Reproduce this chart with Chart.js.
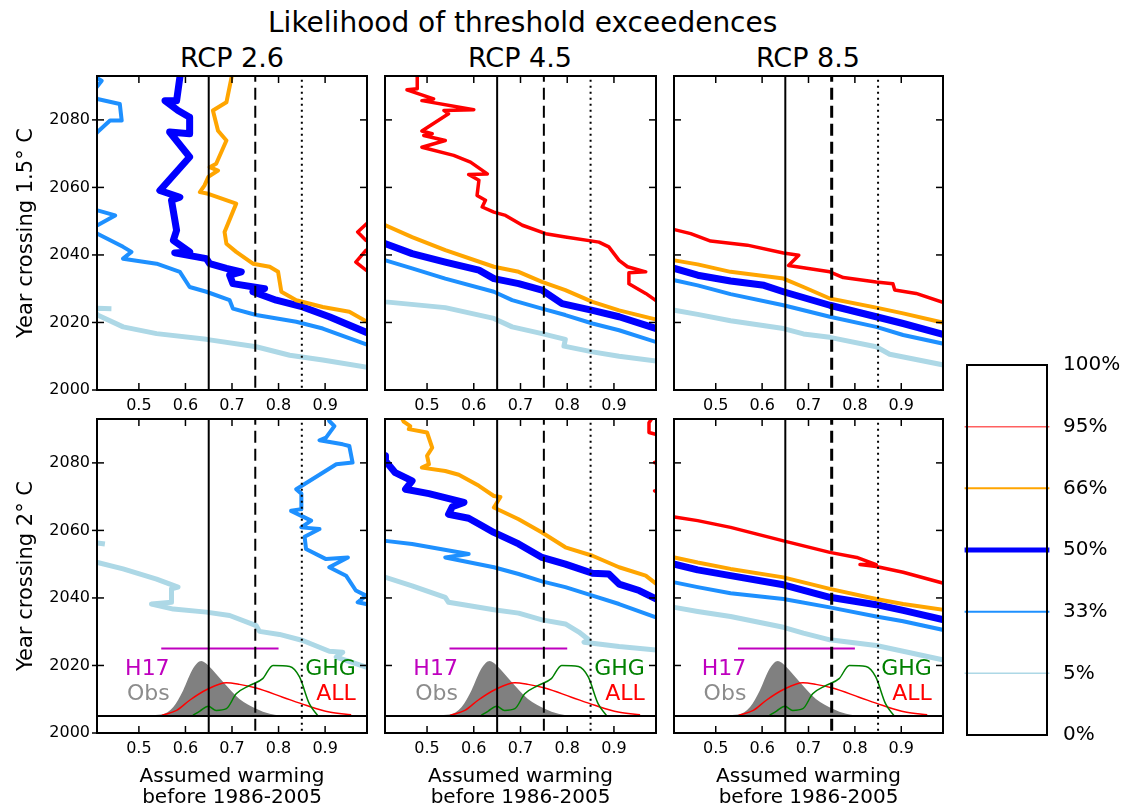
<!DOCTYPE html>
<html>
<head>
<meta charset="utf-8">
<script src="https://cdn.jsdelivr.net/npm/chart.js@4.4.1/dist/chart.umd.min.js"></script>
<style>
  body { margin: 0; background: #fff; width: 1124px; height: 810px; position: relative; overflow: hidden; font-family: 'DejaVu Sans', sans-serif; }
  canvas { position: absolute; }
  .ttl { position: absolute; width: 500px; text-align: center; font-size: 27px; line-height: 32px; color: #000; white-space: nowrap; }
</style>
</head>
<body>
<div class="ttl" style="left:268px;top:7px;font-size:28px">Likelihood of threshold exceedences</div>
<div class="ttl" style="left:-18px;top:42px">RCP 2.6</div>
<div class="ttl" style="left:270px;top:42px">RCP 4.5</div>
<div class="ttl" style="left:558px;top:42px">RCP 8.5</div>
<script>
// axis ticks and legend labels
const xTicks = [0.5, 0.6, 0.7, 0.8, 0.9];
const yTicks = [2000, 2020, 2040, 2060, 2080];
const legendLabels = ['0%', '5%', '33%', '50%', '66%', '95%', '100%'];

// year crossing 1.5 C, [assumed warming, year]
const rcp26_15_p05 = [[0.441,2024.1],[0.411,2024.2],[0.405,2023.5],[0.411,2022.2],[0.466,2018.7],[0.538,2016.7],[0.645,2015.0],[0.752,2012.8],[0.824,2010.3],[0.895,2008.9],[0.995,2006.6]];
const rcp26_15_p33 = [[0.39,2094],[0.42,2091.6],[0.40,2088],[0.411,2086.2],[0.459,2084.7],[0.463,2079.8],[0.438,2079.8],[0.411,2076.4],[0.38,2072],[0.38,2055],[0.411,2053.2],[0.449,2051.7],[0.411,2048.8],[0.39,2047.5],[0.411,2046.3],[0.466,2042.4],[0.484,2040.9],[0.466,2038.9],[0.538,2037.4],[0.588,2035.0],[0.609,2030.5],[0.645,2029.1],[0.695,2026.6],[0.702,2024.1],[0.752,2022.2],[0.838,2020.2],[0.895,2018.2],[0.995,2013.2]];
const rcp26_15_p50 = [[0.59,2095],[0.588,2092.6],[0.581,2085.7],[0.556,2085.7],[0.584,2082.8],[0.609,2080.8],[0.609,2075.9],[0.566,2076.4],[0.609,2069.0],[0.545,2059.1],[0.588,2057.1],[0.570,2056.2],[0.581,2047.3],[0.574,2044.3],[0.609,2040.9],[0.577,2040.6],[0.645,2038.9],[0.652,2037.4],[0.688,2036.0],[0.720,2035.0],[0.695,2034.0],[0.702,2031.5],[0.770,2030.0],[0.745,2029.1],[0.795,2026.6],[0.852,2024.6],[0.909,2021.7],[0.995,2016.7]];
const rcp26_15_p66 = [[0.70,2095],[0.699,2092.6],[0.688,2085.2],[0.659,2082.8],[0.670,2076.8],[0.688,2073.9],[0.666,2067.0],[0.652,2066.0],[0.670,2065.0],[0.649,2063.1],[0.641,2060.6],[0.631,2058.6],[0.649,2058.1],[0.709,2055.2],[0.684,2046.8],[0.688,2043.3],[0.709,2040.9],[0.745,2037.4],[0.781,2036.5],[0.799,2035.0],[0.806,2029.1],[0.838,2026.6],[0.895,2024.6],[0.952,2023.2],[0.995,2019.8]];
const rcp26_15_p95 = [[1.01,2051],[0.995,2050.0],[0.970,2046.8],[0.988,2044.3],[1.01,2043],[1.01,2042],[0.988,2041.4],[0.966,2037.9],[0.988,2035.5],[1.01,2034]];

const rcp45_15_p05 = [[0.40,2026.3],[0.411,2026.1],[0.539,2024.4],[0.643,2021.2],[0.682,2018.7],[0.746,2016.7],[0.796,2015.0],[0.793,2013.0],[0.854,2011.3],[0.911,2010.0],[0.995,2008.5]];
const rcp45_15_p33 = [[0.40,2038.6],[0.411,2038.4],[0.468,2036.0],[0.539,2033.0],[0.643,2029.1],[0.682,2026.6],[0.746,2024.1],[0.796,2022.2],[0.854,2019.7],[0.911,2017.7],[0.995,2014.0]];
const rcp45_15_p50 = [[0.40,2043.6],[0.411,2043.3],[0.468,2040.4],[0.539,2037.9],[0.611,2035.5],[0.643,2033.0],[0.696,2031.5],[0.746,2029.6],[0.789,2025.6],[0.854,2023.6],[0.911,2021.7],[0.995,2018.0]];
const rcp45_15_p66 = [[0.40,2049.2],[0.411,2048.8],[0.468,2045.3],[0.539,2041.4],[0.643,2036.5],[0.696,2035.0],[0.746,2032.0],[0.796,2029.6],[0.854,2026.1],[0.911,2023.6],[0.995,2020.7]];
const rcp45_15_p95 = [[0.479,2095],[0.479,2089.2],[0.457,2088.9],[0.514,2086.2],[0.489,2085.7],[0.600,2083.0],[0.536,2082.8],[0.546,2081.8],[0.489,2076.7],[0.511,2075.9],[0.493,2075.4],[0.539,2073.9],[0.489,2071.9],[0.557,2069.5],[0.593,2067.5],[0.629,2064.0],[0.589,2063.8],[0.611,2062.1],[0.607,2057.6],[0.625,2056.2],[0.618,2054.2],[0.643,2052.7],[0.668,2051.7],[0.704,2048.8],[0.754,2046.3],[0.796,2045.3],[0.868,2043.8],[0.889,2042.4],[0.911,2038.4],[0.929,2036.5],[0.968,2035.0],[0.932,2034.7],[0.932,2031.5],[0.968,2028.6],[0.995,2026.0]];

const rcp85_15_p05 = [[0.40,2023.7],[0.411,2023.6],[0.461,2022.4],[0.532,2020.5],[0.646,2018.2],[0.689,2016.6],[0.746,2015.6],[0.846,2012.8],[0.875,2010.6],[0.995,2007.3]];
const rcp85_15_p33 = [[0.40,2032.7],[0.411,2032.5],[0.461,2031.0],[0.532,2028.4],[0.646,2025.1],[0.746,2021.7],[0.846,2018.7],[0.904,2016.3],[0.995,2013.6]];
const rcp85_15_p50 = [[0.40,2036.2],[0.411,2036.0],[0.461,2034.0],[0.532,2032.3],[0.604,2031.0],[0.646,2029.1],[0.746,2025.1],[0.846,2021.7],[0.904,2019.7],[0.995,2016.3]];
const rcp85_15_p66 = [[0.40,2038.6],[0.411,2038.4],[0.461,2037.2],[0.532,2035.0],[0.646,2033.0],[0.689,2030.5],[0.746,2027.1],[0.846,2024.4],[0.904,2022.7],[0.995,2019.8]];
const rcp85_15_p95 = [[0.40,2047.7],[0.411,2047.5],[0.446,2046.3],[0.489,2044.1],[0.568,2042.9],[0.646,2040.6],[0.679,2039.9],[0.657,2036.9],[0.746,2035.0],[0.775,2033.3],[0.846,2032.0],[0.882,2031.5],[0.886,2029.6],[0.932,2028.6],[0.995,2025.7]];

// year crossing 2 C
const rcp26_20_p05 = [[0.427,2056.0],[0.411,2056.3],[0.39,2055],[0.39,2051],[0.411,2050.5],[0.466,2048.6],[0.538,2045.6],[0.584,2043.2],[0.570,2042.7],[0.570,2038.7],[0.527,2038.2],[0.574,2036.7],[0.645,2035.8],[0.695,2034.8],[0.752,2031.8],[0.759,2030.1],[0.802,2029.2],[0.852,2027.4],[0.909,2024.2],[0.938,2023.9],[0.924,2022.5],[0.995,2019.2]];
const rcp26_20_p33 = [[0.905,2095],[0.909,2092.4],[0.920,2090.9],[0.902,2087.5],[0.888,2086.7],[0.938,2085.5],[0.952,2085.0],[0.959,2080.1],[0.924,2079.6],[0.838,2072.2],[0.849,2070.9],[0.849,2066.3],[0.827,2065.8],[0.870,2062.9],[0.849,2060.9],[0.888,2060.4],[0.856,2058.1],[0.859,2054.5],[0.902,2051.5],[0.949,2052.0],[0.909,2049.1],[0.945,2046.6],[0.966,2042.2],[0.988,2040.7],[0.970,2038.7],[0.988,2038.2],[1.01,2037]];

const rcp45_20_p05 = [[0.40,2046.3],[0.411,2046.1],[0.468,2043.6],[0.539,2040.2],[0.546,2038.7],[0.643,2036.5],[0.696,2035.5],[0.746,2033.5],[0.796,2032.3],[0.825,2029.9],[0.846,2027.6],[0.836,2026.9],[0.911,2025.6],[0.995,2024.5]];
const rcp45_20_p33 = [[0.40,2057.0],[0.411,2056.9],[0.468,2056.0],[0.589,2053.0],[0.539,2052.0],[0.643,2049.1],[0.696,2047.1],[0.746,2044.9],[0.796,2043.2],[0.854,2040.7],[0.911,2038.2],[0.995,2034.0]];
const rcp45_20_p50 = [[0.40,2083],[0.411,2082.1],[0.411,2080.6],[0.432,2077.1],[0.468,2074.7],[0.454,2072.2],[0.504,2070.9],[0.579,2068.3],[0.554,2067.0],[0.546,2064.8],[0.589,2063.6],[0.611,2061.9],[0.643,2059.4],[0.696,2056.0],[0.746,2052.0],[0.796,2050.0],[0.854,2047.3],[0.889,2047.1],[0.911,2044.1],[0.954,2042.2],[0.995,2039.4]];
const rcp45_20_p66 = [[0.44,2095],[0.450,2092.2],[0.464,2090.9],[0.461,2090.0],[0.500,2089.0],[0.511,2084.5],[0.500,2082.1],[0.504,2079.6],[0.489,2078.6],[0.539,2077.6],[0.568,2076.5],[0.611,2073.2],[0.643,2070.2],[0.657,2069.9],[0.643,2066.8],[0.696,2063.3],[0.746,2059.4],[0.796,2055.0],[0.854,2052.5],[0.911,2049.1],[0.968,2046.6],[0.995,2043.7]];
const rcp45_20_p95 = [[0.99,2095],[0.975,2091.9],[0.975,2089.0],[0.989,2088.5],[1.01,2087],[1.01,2081],[0.987,2080.1],[1.01,2079],[1.01,2072.5],[0.987,2071.7],[1.01,2071]];

const rcp85_20_p05 = [[0.40,2037.3],[0.411,2037.2],[0.461,2036.0],[0.532,2034.5],[0.646,2031.3],[0.689,2029.6],[0.746,2027.6],[0.846,2025.9],[0.904,2024.2],[0.995,2021.5]];
const rcp85_20_p33 = [[0.40,2044.7],[0.411,2044.6],[0.461,2043.2],[0.532,2041.4],[0.646,2039.7],[0.746,2037.2],[0.846,2034.5],[0.904,2033.1],[0.995,2030.4]];
const rcp85_20_p50 = [[0.40,2050.1],[0.411,2050.0],[0.461,2048.3],[0.532,2046.6],[0.646,2043.9],[0.746,2040.2],[0.846,2038.0],[0.904,2036.3],[0.995,2033.4]];
const rcp85_20_p66 = [[0.40,2052.1],[0.411,2052.0],[0.461,2050.5],[0.532,2048.6],[0.646,2046.1],[0.746,2042.7],[0.846,2039.7],[0.904,2038.2],[0.995,2036.4]];
const rcp85_20_p95 = [[0.40,2064.1],[0.411,2064.0],[0.461,2062.9],[0.532,2060.9],[0.589,2058.9],[0.646,2056.9],[0.746,2053.5],[0.804,2052.0],[0.846,2049.9],[0.811,2049.9],[0.846,2049.3],[0.904,2047.6],[0.995,2044.2]];

// warming distributions drawn above the 2005 baseline, and the H17 range
const obsDist = [[0.495,2005.2],[0.549,2005.5],[0.574,2007.7],[0.595,2012.6],[0.616,2019.0],[0.634,2021.3],[0.649,2020.0],[0.681,2015.1],[0.716,2010.1],[0.752,2007.2],[0.781,2005.7],[0.802,2005.2]];
const allDist = [[0.549,2005.2],[0.581,2006.7],[0.609,2009.7],[0.645,2012.8],[0.688,2014.9],[0.716,2014.4],[0.752,2013.3],[0.809,2010.6],[0.859,2008.2],[0.909,2006.2],[0.956,2005.4]];
const ghgDist = [[0.616,2005.2],[0.631,2006.5],[0.649,2007.9],[0.666,2006.7],[0.688,2007.2],[0.709,2011.6],[0.738,2014.1],[0.766,2016.1],[0.788,2020.0],[0.824,2019.7],[0.845,2016.6],[0.866,2008.7],[0.884,2005.2]];
const h17Range = [[0.548,2025],[0.800,2025]];

Chart.defaults.font.family = "'DejaVu Sans', sans-serif";
Chart.defaults.color = '#000';

const cols = [{left: 97, right: 367}, {left: 385, right: 656}, {left: 674, right: 943}];
const rows = [{top: 76, bottom: 390}, {top: 419, bottom: 733}];
const yTitles = ['Year crossing 1.5\u00B0 C', 'Year crossing 2\u00B0 C'];

const seriesStyle = [
  {key: 'p95', color: '#ff0000', width: 3.5},
  {key: 'p66', color: '#ffa500', width: 4},
  {key: 'p50', color: '#0000ff', width: 7},
  {key: 'p33', color: '#1e90ff', width: 4},
  {key: 'p05', color: '#add8e6', width: 5}
];

const notes = [
  {text: 'H17', x: 0.566, y: 2019, color: '#bf00bf'},
  {text: 'Obs', x: 0.566, y: 2011.5, color: '#8c8c8c'},
  {text: 'GHG', x: 0.966, y: 2019, color: '#008000'},
  {text: 'ALL', x: 0.966, y: 2011.5, color: '#ff0000'}
];

const panels = [
  {col: 0, row: 0, p05: rcp26_15_p05, p33: rcp26_15_p33, p50: rcp26_15_p50, p66: rcp26_15_p66, p95: rcp26_15_p95},
  {col: 1, row: 0, p05: rcp45_15_p05, p33: rcp45_15_p33, p50: rcp45_15_p50, p66: rcp45_15_p66, p95: rcp45_15_p95},
  {col: 2, row: 0, p05: rcp85_15_p05, p33: rcp85_15_p33, p50: rcp85_15_p50, p66: rcp85_15_p66, p95: rcp85_15_p95},
  {col: 0, row: 1, p05: rcp26_20_p05, p33: rcp26_20_p33},
  {col: 1, row: 1, p05: rcp45_20_p05, p33: rcp45_20_p33, p50: rcp45_20_p50, p66: rcp45_20_p66, p95: rcp45_20_p95},
  {col: 2, row: 1, p05: rcp85_20_p05, p33: rcp85_20_p33, p50: rcp85_20_p50, p66: rcp85_20_p66, p95: rcp85_20_p95}
];

function line(pts, color, width, extra) {
  return Object.assign({
    data: pts.map(p => ({x: p[0], y: p[1]})),
    borderColor: color, borderWidth: width, pointRadius: 0,
    fill: false, tension: 0, borderJoinStyle: 'round'
  }, extra || {});
}

function seg(ctx, x1, y1, x2, y2) {
  ctx.beginPath(); ctx.moveTo(x1, y1); ctx.lineTo(x2, y2); ctx.stroke();
}

// box, matplotlib-style inward ticks and text labels
const frame = {
  id: 'frame',
  afterDatasetsDraw(chart, args, opts) {
    const {ctx, chartArea: a} = chart;
    const x = chart.scales.x, y = chart.scales.y;
    ctx.save();
    ctx.strokeStyle = '#000';
    ctx.lineWidth = 1.5;
    xTicks.forEach(v => {
      const px = x.getPixelForValue(v);
      seg(ctx, px, a.top, px, a.top + 7);
      seg(ctx, px, a.bottom, px, a.bottom - 7);
    });
    yTicks.forEach(v => {
      const py = y.getPixelForValue(v);
      seg(ctx, a.left, py, a.left + 7, py);
      seg(ctx, a.right - 7, py, a.right, py);
      if (opts.outer) seg(ctx, a.left - 5, py, a.left, py);
    });
    ctx.lineWidth = 2;
    ctx.strokeRect(a.left, a.top, a.right - a.left, a.bottom - a.top);
    if (opts.notes) {
      ctx.font = "22px 'DejaVu Sans'";
      ctx.textAlign = 'right';
      ctx.textBaseline = 'middle';
      notes.forEach(n => {
        ctx.fillStyle = n.color;
        ctx.fillText(n.text, x.getPixelForValue(n.x), y.getPixelForValue(n.y));
      });
    }
    ctx.restore();
  }
};

function makePanel(p) {
  const col = cols[p.col], row = rows[p.row];
  const yW = p.col === 0 ? 97 : 6;
  const xH = p.row === 0 ? 28 : 77;
  const padTop = 20, padRight = 5;
  const cv = document.createElement('canvas');
  cv.width = yW + (col.right - col.left) + padRight;
  cv.height = padTop + (row.bottom - row.top) + xH;
  cv.style.left = (col.left - yW) + 'px';
  cv.style.top = (row.top - padTop) + 'px';
  document.body.appendChild(cv);

  const ds = [];
  ds.push(line([[0.65, 1990], [0.65, 2100]], '#000', 2));
  ds.push(line([[0.75, 1990], [0.75, 2100]], '#000', p.col === 2 ? 3 : 2, {borderDash: [12, 6]}));
  ds.push(line([[0.85, 1990], [0.85, 2100]], '#000', 2, {borderDash: [2, 4]}));
  if (p.row === 1) {
    ds.push(line([[0.3, 2005], [1.1, 2005]], '#000', 2));
    ds.push(line(h17Range, '#bf00bf', 2));
    ds.push(line(ghgDist, '#008000', 1.5, {cubicInterpolationMode: 'monotone'}));
    ds.push(line(allDist, '#ff0000', 1.5, {cubicInterpolationMode: 'monotone'}));
  }
  seriesStyle.forEach(s => {
    if (p[s.key]) ds.push(line(p[s.key], s.color, s.width));
  });
  if (p.row === 1) {
    ds.push(line(obsDist, '#808080', 0, {fill: {value: 2005}, backgroundColor: '#808080', cubicInterpolationMode: 'monotone'}));
  }

  new Chart(cv, {
    type: 'line',
    data: {datasets: ds},
    options: {
      responsive: false,
      animation: false,
      devicePixelRatio: 1,
      events: [],
      layout: {padding: {top: padTop, right: padRight, left: 0, bottom: 0}},
      plugins: {legend: {display: false}, tooltip: {enabled: false}, frame: {outer: p.col === 0, notes: p.row === 1}},
      scales: {
        x: {
          type: 'linear', min: 0.41, max: 0.99,
          afterBuildTicks: s => { s.ticks = xTicks.map(v => ({value: v})); },
          afterFit: s => { s.height = xH; },
          grid: {display: false, drawTicks: false},
          border: {display: false},
          ticks: {padding: 6, font: {size: 16}, callback: v => v.toFixed(1)},
          title: {display: p.row === 1, text: ['Assumed warming', 'before 1986-2005'], font: {size: 20, lineHeight: 1.05}, padding: {top: 0, bottom: 2}}
        },
        y: {
          type: 'linear', min: 2000, max: 2093,
          afterBuildTicks: s => { s.ticks = yTicks.map(v => ({value: v})); },
          afterFit: s => { s.width = yW; },
          grid: {display: false, drawTicks: false},
          border: {display: false},
          ticks: {display: p.col === 0, padding: 7, font: {size: 16}, callback: v => String(v)},
          title: {display: p.col === 0, text: yTitles[p.row], font: {size: 21}, padding: {top: 14, bottom: 0}}
        }
      }
    },
    plugins: [frame]
  });
}

panels.forEach(makePanel);

// legend panel: one line per likelihood level
const legendStyle = [null, ['#add8e6', 1.5], ['#1e90ff', 2], ['#0000ff', 5], ['#ffa500', 2], ['#ff6060', 1.5], null];
const lgSets = [];
legendLabels.forEach((lab, i) => {
  if (legendStyle[i]) lgSets.push(line([[-0.03, i], [1.03, i]], legendStyle[i][0], legendStyle[i][1], {clip: 4}));
});

const legendFrame = {
  id: 'legendFrame',
  afterDatasetsDraw(chart) {
    const {ctx, chartArea: a} = chart;
    ctx.save();
    ctx.strokeStyle = '#000';
    ctx.lineWidth = 2;
    ctx.strokeRect(a.left, a.top, a.right - a.left, a.bottom - a.top);
    ctx.restore();
  }
};

const lg = document.createElement('canvas');
lg.width = 161; lg.height = 430;
lg.style.left = '963px'; lg.style.top = '335px';
document.body.appendChild(lg);
new Chart(lg, {
  type: 'line',
  data: {datasets: lgSets},
  options: {
    responsive: false,
    animation: false,
    devicePixelRatio: 1,
    events: [],
    layout: {padding: {top: 30, bottom: 30, left: 4, right: 0}},
    plugins: {legend: {display: false}, tooltip: {enabled: false}},
    scales: {
      x: {type: 'linear', min: 0, max: 1, display: false},
      y: {
        type: 'linear', position: 'right', min: 0, max: 6,
        afterBuildTicks: s => { s.ticks = legendLabels.map((l, i) => ({value: i})); },
        afterFit: s => { s.width = 77; },
        grid: {display: false, drawTicks: false},
        border: {display: false},
        ticks: {padding: 16, font: {size: 20}, callback: v => legendLabels[v]}
      }
    }
  },
  plugins: [legendFrame]
});
</script>
</body>
</html>
